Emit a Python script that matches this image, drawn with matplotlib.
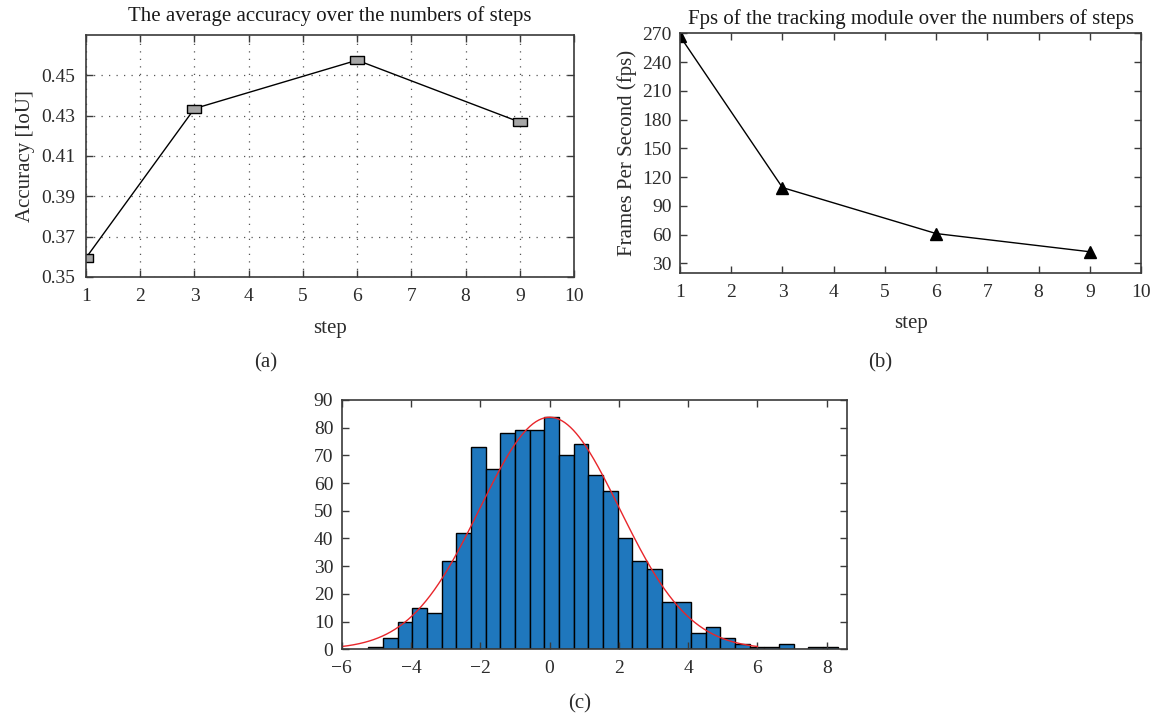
import numpy as np
import matplotlib
matplotlib.use('Agg')
import matplotlib.pyplot as plt

# (a) accuracy over steps
steps = [1, 3, 6, 9]
accuracy = [0.3595, 0.4335, 0.4575, 0.4268]

# (b) fps over steps
fps = [267, 109, 61, 42]

# (c) histogram counts (32 bins) and bin layout
hist_counts = [1, 4, 10, 15, 13, 32, 42, 73, 65, 78, 79, 79, 84, 70, 74, 63,
               57, 40, 32, 29, 17, 17, 6, 8, 4, 2, 1, 1, 2, 0, 1, 1]
bin_start = -5.235
bin_width = 0.4235

plt.rcParams['font.family'] = ['Liberation Serif', 'DejaVu Serif']
plt.rcParams['font.size'] = 14

text_col = '#2b2b2b'
spine_col = '#3a3a3a'
lab_fs = 15


def style_axes(ax):
    for s in ax.spines.values():
        s.set_color(spine_col)
        s.set_linewidth(1.2)
    ax.tick_params(direction='in', top=True, right=True, length=5,
                   width=1.0, colors=spine_col, labelcolor=text_col,
                   labelsize=14, pad=8)


fig = plt.figure(figsize=(11.61, 7.2), dpi=100)

# ---- (a)
ax1 = fig.add_axes([0.0741, 0.6153, 0.4203, 0.3361])
rect = [(-1, -0.6), (1, -0.6), (1, 0.6), (-1, 0.6), (-1, -0.6)]
ax1.plot(steps, accuracy, color='black', lw=1.0, marker=rect, markersize=10,
         markerfacecolor='#a6a6a6', markeredgecolor='black', markeredgewidth=1.0)
ax1.set_xlim(1, 10)
ax1.set_ylim(0.35, 0.47)
ax1.set_xticks(range(1, 11))
ax1.set_yticks([0.35, 0.37, 0.39, 0.41, 0.43, 0.45])
ax1.set_yticklabels(['0.35', '0.37', '0.39', '0.41', '0.43', '0.45'])
ax1.grid(True, linestyle=(0, (1, 5)), color='#555555', lw=0.9)
style_axes(ax1)
ax1.set_title('The average accuracy over the numbers of steps', fontsize=lab_fs,
              color='#1a1a1a', pad=10)
ax1.set_xlabel('step', fontsize=lab_fs, color=text_col, labelpad=10)
ax1.set_ylabel('Accuracy [IoU]', fontsize=lab_fs, color=text_col, labelpad=4)

# ---- (b)
ax2 = fig.add_axes([0.5857, 0.6204, 0.3971, 0.3333])
ax2.plot(steps, fps, color='black', lw=1.0, marker='^', markersize=8,
         markerfacecolor='black', markeredgecolor='black')
ax2.set_xlim(1, 10)
ax2.set_ylim(19.5, 270)
ax2.set_xticks(range(1, 11))
ax2.set_yticks(range(30, 271, 30))
style_axes(ax2)
ax2.tick_params(axis='y', pad=6)
ax2.set_title('Fps of the tracking module over the numbers of steps', fontsize=lab_fs,
              color='#1a1a1a', pad=7)
ax2.set_xlabel('step', fontsize=lab_fs, color=text_col, labelpad=9)
ax2.set_ylabel('Frames Per Second (fps)', fontsize=lab_fs, color=text_col, labelpad=4)

# ---- (c)
ax3 = fig.add_axes([0.2943, 0.0982, 0.435, 0.3463])
edges = bin_start + bin_width * np.arange(len(hist_counts) + 1)
centers = (edges[:-1] + edges[1:]) / 2
ax3.hist(centers, bins=edges, weights=hist_counts, color='#1f77bd',
         edgecolor='black', linewidth=1.0)
# normal fit from the binned data
total = np.sum(hist_counts)
mu = np.average(centers, weights=hist_counts)
sigma = np.sqrt(np.average((centers - mu) ** 2, weights=hist_counts))
xs = np.linspace(-6.5, 6.0, 300)
ys = total * bin_width * np.exp(-0.5 * ((xs - mu) / sigma) ** 2) / (sigma * np.sqrt(2 * np.pi))
ax3.plot(xs, ys, color='#e8262b', lw=1.0)
ax3.set_xlim(-6, 8.58)
ax3.set_ylim(0, 90)
ax3.set_xticks(range(-6, 9, 2))
ax3.set_xticklabels(['\u2212' + str(-t) if t < 0 else str(t) for t in range(-6, 9, 2)])
ax3.set_yticks(range(0, 91, 10))
style_axes(ax3)
ax3.tick_params(axis='y', pad=6)

fig.text(266 / 1161, 1 - 363 / 720, '(a)', ha='center', va='center', fontsize=lab_fs, color=text_col)
fig.text(880 / 1161, 1 - 363 / 720, '(b)', ha='center', va='center', fontsize=lab_fs, color=text_col)
fig.text(580 / 1161, 1 - 704 / 720, '(c)', ha='center', va='center', fontsize=lab_fs, color=text_col)

fig.savefig('out.png', dpi=100)
